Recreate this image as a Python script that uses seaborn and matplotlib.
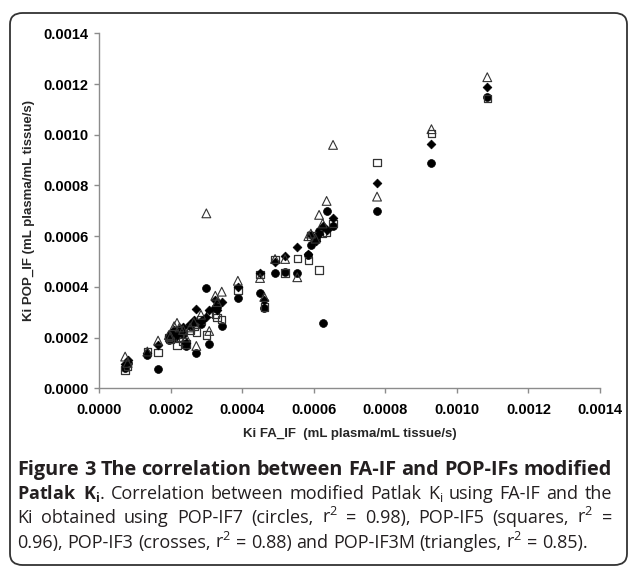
import numpy as np
import pandas as pd
import seaborn as sns
import matplotlib.pyplot as plt
from matplotlib.patches import FancyBboxPatch
from matplotlib.ticker import FormatStrFormatter, MultipleLocator

# Ki values (mL plasma/mL tissue/s), one entry per subject
ki_fa = [0.000073, 0.000080, 0.000135, 0.000165, 0.000195, 0.000200, 0.000210, 0.000218,
         0.000225, 0.000235, 0.000243, 0.000255, 0.000265, 0.000272, 0.000285, 0.000300,
         0.000308, 0.000325, 0.000330, 0.000343, 0.000388, 0.000450, 0.000462, 0.000492,
         0.000520, 0.000554, 0.000585, 0.000592, 0.000605, 0.000615, 0.000625, 0.000636,
         0.000654, 0.000777, 0.000929, 0.001085]
ki_pop7 = [0.000080, 0.000100, 0.000130, 0.000076, 0.000190, 0.000210, 0.000200, 0.000225,
           0.000235, 0.000215, 0.000168, 0.000245, 0.000260, 0.000140, 0.000255, 0.000394,
           0.000175, 0.000315, 0.000320, 0.000246, 0.000355, 0.000377, 0.000315, 0.000456,
           0.000460, 0.000454, 0.000525, 0.000565, 0.000590, 0.000620, 0.000259, 0.000700,
           0.000640, 0.000700, 0.000890, 0.001150]
ki_pop5 = [0.000072, 0.000085, 0.000145, 0.000142, 0.000200, 0.000195, 0.000220, 0.000170,
           0.000200, 0.000185, 0.000175, 0.000230, 0.000245, 0.000222, 0.000270, 0.000210,
           0.000295, 0.000290, 0.000280, 0.000272, 0.000388, 0.000450, 0.000320, 0.000509,
           0.000455, 0.000513, 0.000505, 0.000600, 0.000600, 0.000467, 0.000610, 0.000615,
           0.000650, 0.000891, 0.001006, 0.001144]
ki_pop3 = [0.000095, 0.000110, 0.000140, 0.000172, 0.000205, 0.000220, 0.000230, 0.000210,
           0.000225, 0.000240, 0.000180, 0.000255, 0.000270, 0.000312, 0.000265, 0.000280,
           0.000310, 0.000350, 0.000310, 0.000340, 0.000400, 0.000456, 0.000348, 0.000500,
           0.000522, 0.000559, 0.000530, 0.000605, 0.000580, 0.000610, 0.000640, 0.000625,
           0.000673, 0.000809, 0.000964, 0.001187]
ki_pop3m = [0.000125, 0.000100, 0.000145, 0.000188, 0.000210, 0.000205, 0.000245, 0.000258,
            0.000240, 0.000230, 0.000200, 0.000240, 0.000260, 0.000167, 0.000290, 0.000690,
            0.000226, 0.000365, 0.000340, 0.000381, 0.000424, 0.000435, 0.000360, 0.000510,
            0.000510, 0.000438, 0.000600, 0.000610, 0.000590, 0.000684, 0.000650, 0.000739,
            0.000960, 0.000756, 0.001022, 0.001227]

series = ["POP-IF7", "POP-IF5", "POP-IF3", "POP-IF3M"]
df = pd.DataFrame({"FA": ki_fa * 4,
                   "POP": ki_pop7 + ki_pop5 + ki_pop3 + ki_pop3m,
                   "series": np.repeat(series, len(ki_fa))})

sns.set_style("ticks")
plt.rcParams["font.family"] = ["Liberation Sans", "DejaVu Sans"]
plt.rcParams["mathtext.fontset"] = "custom"
plt.rcParams["mathtext.rm"] = "Open Sans"
plt.rcParams["mathtext.bf"] = "Open Sans:bold"
plt.rcParams["mathtext.it"] = "Open Sans:italic"

fig = plt.figure(figsize=(6.29, 5.67), dpi=100)
ax = fig.add_axes([0.1574, 0.3152, 0.7965, 0.626])

styles = {
    "POP-IF7": dict(marker="o", s=32, facecolor="black", edgecolor="black", linewidth=0.5),
    "POP-IF5": dict(marker="s", s=28, facecolor="none", edgecolor="#333333", linewidth=0.9),
    "POP-IF3": dict(marker="D", s=20, facecolor="black", edgecolor="black", linewidth=0.5),
    "POP-IF3M": dict(marker="^", s=40, facecolor="none", edgecolor="#333333", linewidth=0.8),
}
for name in series:
    sub = df[df.series == name]
    sns.scatterplot(data=sub, x="FA", y="POP", ax=ax, legend=False, **styles[name])

ax.set_xlim(0, 0.0014)
ax.set_ylim(0, 0.0014)
ax.xaxis.set_major_locator(MultipleLocator(0.0002))
ax.yaxis.set_major_locator(MultipleLocator(0.0002))
ax.xaxis.set_major_formatter(FormatStrFormatter("%.4f"))
ax.yaxis.set_major_formatter(FormatStrFormatter("%.4f"))
sns.despine(ax=ax)
for sp in ["left", "bottom"]:
    ax.spines[sp].set_color("#8c8c8c")
    ax.spines[sp].set_linewidth(1.0)
ax.tick_params(axis="both", direction="out", length=3.5, width=1.0, color="#8c8c8c",
               labelsize=10.5, labelcolor="black")
ax.tick_params(axis="x", pad=7)
ax.tick_params(axis="y", pad=4)
for lab in ax.get_xticklabels() + ax.get_yticklabels():
    lab.set_fontweight("bold")

ax.set_xlabel("Ki FA_IF  (mL plasma/mL tissue/s)", fontsize=9.5, fontweight="bold", labelpad=8)
ax.set_ylabel("Ki POP_IF (mL plasma/mL tissue/s)", fontsize=9.5, fontweight="bold", labelpad=6)

# rounded frame
box = FancyBboxPatch((10 / 629, 1 - 565 / 567), 617 / 629, 552 / 567,
                     boxstyle="round,pad=0,rounding_size=0.02", transform=fig.transFigure,
                     facecolor="none", edgecolor="#333333", linewidth=1.3, clip_on=False)
fig.add_artist(box)

# caption, justified between x=17 and x=612 px
cap_font = ["Open Sans", "DejaVu Sans"]
left_px, right_px = 17, 612
renderer = fig.canvas.get_renderer()


def caption_line(words, y_px, size, weights=None, justify=True):
    weights = weights or ["normal"] * len(words)
    arts = []
    for w, wt in zip(words, weights):
        arts.append(fig.text(0, 1 - y_px / 567, w, family=cap_font, fontsize=size,
                             fontweight=wt, color="#231f20", va="baseline"))
    widths = [a.get_window_extent(renderer).width for a in arts]
    space = size * 100 / 72 * 0.26
    if justify and len(words) > 1:
        space = (right_px - left_px - sum(widths)) / (len(words) - 1)
    x = left_px
    for a, w in zip(arts, widths):
        a.set_x(x / 629)
        x += w + space


line1 = "Figure 3 The correlation between FA-IF and POP-IFs modified".split()
caption_line(line1, 475, 14.3, ["bold"] * len(line1))
line2 = [r"$\mathbf{Patlak}$", r"$\mathbf{K_i}$.", "Correlation", "between", "modified",
         "Patlak", r"K$_\mathrm{i}$", "using", "FA-IF", "and", "the"]
caption_line(line2, 499, 13.0)
line3 = ["Ki", "obtained", "using", "POP-IF7", "(circles,", r"r$^2$", "=", "0.98),",
         "POP-IF5", "(squares,", r"r$^2$", "="]
caption_line(line3, 523, 13.0)
line4 = ["0.96),", "POP-IF3", "(crosses,", r"r$^2$", "=", "0.88)", "and", "POP-IF3M",
         "(triangles,", r"r$^2$", "=", "0.85)."]
caption_line(line4, 548, 13.0, justify=False)

fig.savefig("out.png", dpi=100)
